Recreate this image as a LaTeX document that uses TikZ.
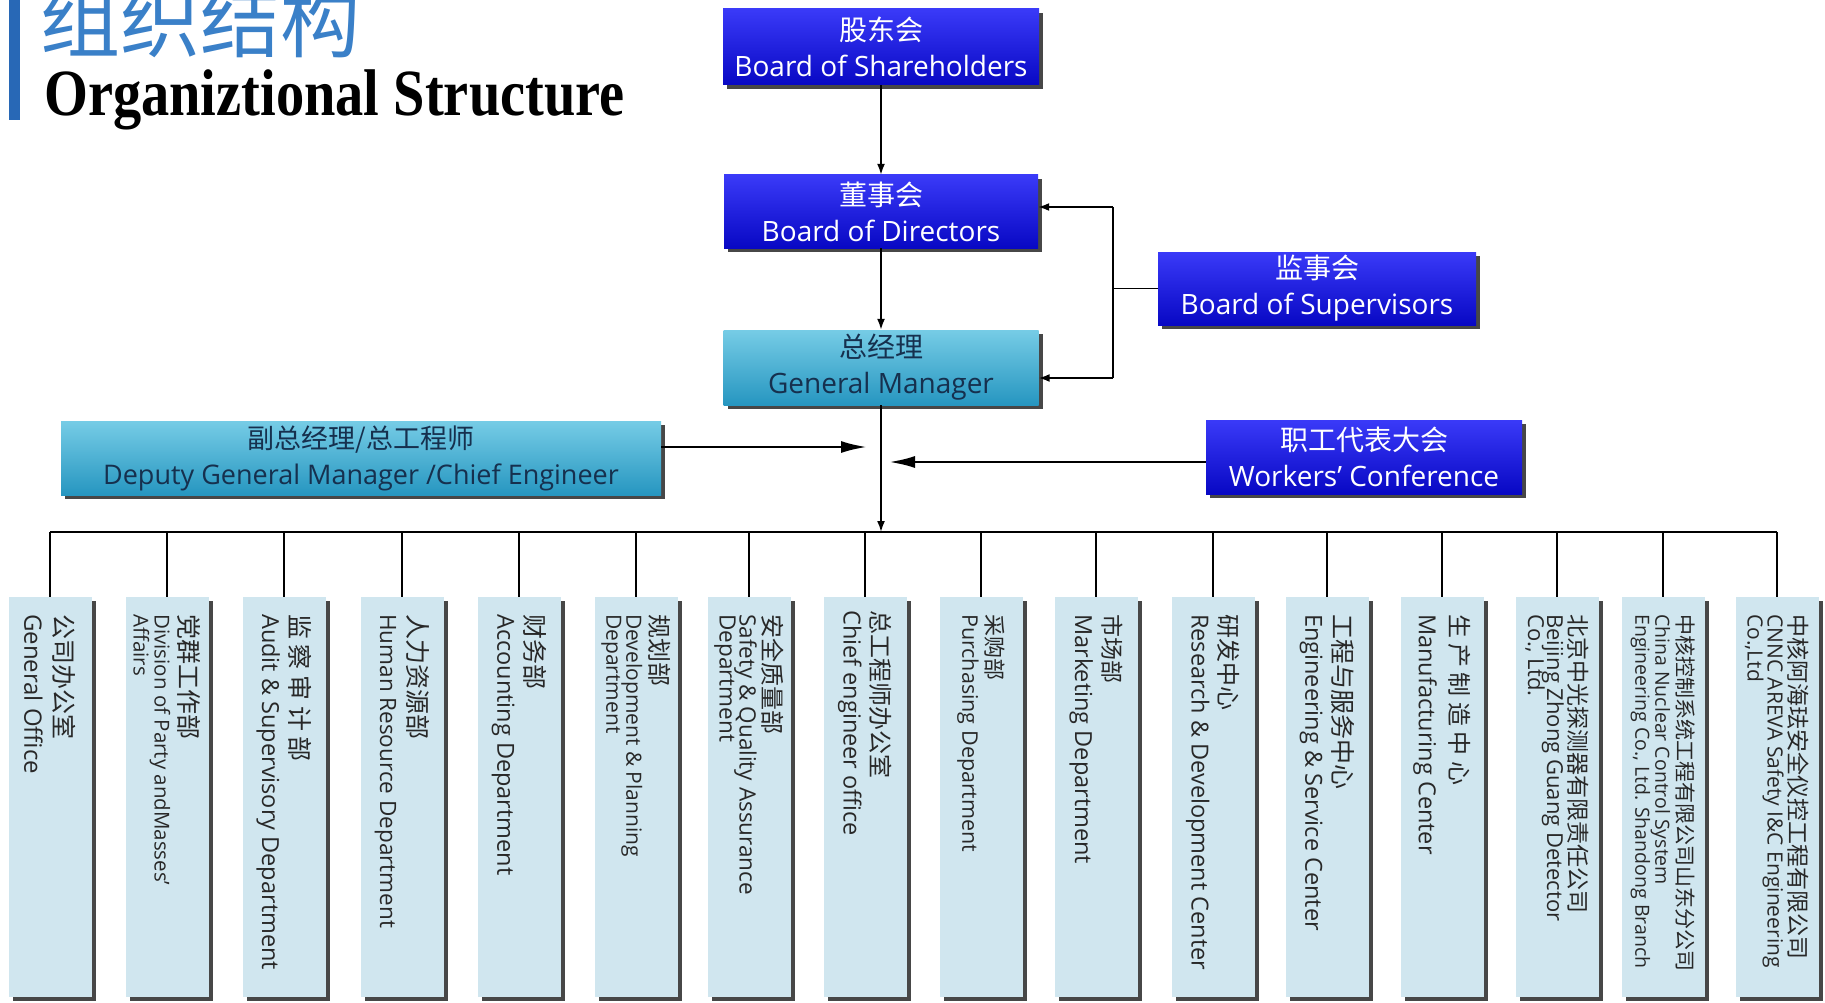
\documentclass[tikz,border=0pt]{standalone}
\usepackage{fontspec}
\setmainfont{Open Sans}
\newfontfamily\cjk{Noto Sans CJK SC}
\newfontfamily\titleserif{Liberation Serif}
\usetikzlibrary{arrows.meta,shadows}

\definecolor{boardtop}{RGB}{58,58,248}
\definecolor{boardbot}{RGB}{8,8,196}
\definecolor{mgrtop}{RGB}{118,204,230}
\definecolor{mgrbot}{RGB}{38,150,192}
\definecolor{deptfill}{RGB}{208,230,239}
\definecolor{shade}{RGB}{62,62,62}
\definecolor{navytext}{RGB}{22,48,78}
\definecolor{deptink}{RGB}{40,40,40}
\definecolor{titleblue}{RGB}{58,128,200}
\definecolor{barblue}{RGB}{40,104,182}

\tikzset{
  boxshadow/.style={drop shadow={shadow xshift=4pt, shadow yshift=-4pt, fill=shade, opacity=0.95}},
  board/.style={boxshadow, draw=none, top color=boardtop, bottom color=boardbot,
    text=white, align=center, inner sep=0pt,
    font=\fontsize{28}{36}\selectfont},
  manager/.style={boxshadow, draw=none, top color=mgrtop, bottom color=mgrbot,
    text=navytext, align=center, inner sep=0pt,
    font=\fontsize{28}{36}\selectfont},
  dept/.style={boxshadow, draw=none, fill=deptfill, inner sep=0pt,
    minimum width=83pt, minimum height=400pt},
  depttext/.style={rotate=-90, anchor=west, align=left, inner sep=0pt,
    text=deptink, font=\fontsize{21}{22}\selectfont},
  conn/.style={line width=1.8pt, -{Latex[length=11pt,width=8pt]}},
  heavyarrow/.style={line width=2.6pt, -{Latex[length=26pt,width=12pt]}},
  wire/.style={line width=1.8pt},
  busline/.style={line width=2.6pt}
}

\begin{document}
\begin{tikzpicture}[x=1pt,y=-1pt]
\useasboundingbox (0,0) rectangle (1825,1003);
\fill[white] (0,0) rectangle (1825,1003);

% heading
\fill[barblue] (9,0) rectangle (20,120);
\node[anchor=base west, inner sep=0pt, text=titleblue,
      font=\cjk\fontsize{80}{80}\selectfont] (headzh) at (40,52) {组织结构};
\node[anchor=base west, inner sep=0pt,
      font=\titleserif\bfseries\fontsize{66}{66}\selectfont] (headen) at (44,116)
      {\scalebox{0.855}[1]{Organiztional Structure}};

% governing bodies
\node[board, minimum width=316pt, minimum height=76pt] (sh) at (881,47)
  {{\cjk 股东会}\\Board of Shareholders};
\node[board, minimum width=314pt, minimum height=73pt] (dir) at (881,211.5)
  {{\cjk 董事会}\\Board of Directors};
\node[manager, minimum width=315pt, minimum height=75pt] (gm) at (881,367.5)
  {{\cjk 总经理}\\General Manager};
\node[board, minimum width=318pt, minimum height=73pt] (sup) at (1317,288.5)
  {{\cjk 监事会}\\Board of Supervisors};
\node[manager, minimum width=600pt, minimum height=74pt,
      font=\fontsize{27}{36}\selectfont] (dep) at (361,458)
  {{\cjk 副总经理/总工程师}\\Deputy General Manager /Chief Engineer};
\node[board, minimum width=316pt, minimum height=74pt] (wk) at (1364,457)
  {{\cjk 职工代表大会}\\Workers' Conference};

% departments
\node[dept] (d1)  at (50,797)   {};
\node[dept] (d2)  at (167,797)  {};
\node[dept] (d3)  at (284,797)  {};
\node[dept] (d4)  at (402,797)  {};
\node[dept] (d5)  at (519,797)  {};
\node[dept] (d6)  at (636,797)  {};
\node[dept] (d7)  at (749,797)  {};
\node[dept] (d8)  at (865,797)  {};
\node[dept] (d9)  at (981,797)  {};
\node[dept] (d10) at (1096,797) {};
\node[dept] (d11) at (1213,797) {};
\node[dept] (d12) at (1327,797) {};
\node[dept] (d13) at (1442,797) {};
\node[dept] (d14) at (1557,797) {};
\node[dept] (d15) at (1663,797) {};
\node[dept] (d16) at (1777,797) {};

\node[depttext] (t1) at (50,614)
  {{\cjk\fontsize{25}{25}\selectfont 公司办公室}\\[8pt]{\fontsize{24}{24}\selectfont General Office}};
\node[depttext] (t2) at (167,614)
  {{\cjk\fontsize{25}{25}\selectfont 党群工作部}\\[3pt]{\fontsize{20.5}{21}\selectfont Division of Party andMasses'}\\[-1pt]{\fontsize{20.5}{21}\selectfont Affairs}};
\node[depttext] (t3) at (284,614)
  {{\cjk\fontsize{25}{25}\selectfont 监 察 审 计 部}\\[6pt]{\fontsize{23.5}{24}\selectfont Audit \& Supervisory Department}};
\node[depttext] (t4) at (402,614)
  {{\cjk\fontsize{25}{25}\selectfont 人力资源部}\\[6pt]{\fontsize{22.5}{23}\selectfont Human Resource Department}};
\node[depttext] (t5) at (519,614)
  {{\cjk\fontsize{25}{25}\selectfont 财务部}\\[6pt]{\fontsize{23.5}{24}\selectfont Accounting Department}};
\node[depttext] (t6) at (636,614)
  {{\cjk\fontsize{24}{24}\selectfont 规划部}\\[2pt]{\fontsize{21}{21}\selectfont Development \& Planning}\\[-2pt]{\fontsize{21}{21}\selectfont Department}};
\node[depttext] (t7) at (749,614)
  {{\cjk\fontsize{24}{24}\selectfont 安全质量部}\\[2pt]{\fontsize{22.5}{22}\selectfont Safety \& Quality Assurance}\\[-2pt]{\fontsize{22.5}{22}\selectfont Department}};
\node[depttext] (t8) at (865,610)
  {{\cjk\fontsize{24}{24}\selectfont 总工程师办公室}\\[6pt]{\fontsize{23.5}{24}\selectfont Chief engineer office}};
\node[depttext] (t9) at (981,614)
  {{\cjk\fontsize{22}{22}\selectfont 采购部}\\[2pt]{\fontsize{21.5}{22}\selectfont Purchasing Department}};
\node[depttext] (t10) at (1096,614)
  {{\cjk\fontsize{23}{23}\selectfont 市场部}\\[6pt]{\fontsize{23.5}{24}\selectfont Marketing Department}};
\node[depttext] (t11) at (1213,614)
  {{\cjk\fontsize{24}{24}\selectfont 研发中心}\\[6pt]{\fontsize{23.5}{24}\selectfont Research \& Development Center}};
\node[depttext] (t12) at (1327,614)
  {{\cjk\fontsize{25}{25}\selectfont 工程与服务中心}\\[6pt]{\fontsize{23.5}{24}\selectfont Engineering \& Service Center}};
\node[depttext] (t13) at (1442,614)
  {{\cjk\fontsize{24}{24}\selectfont 生 产 制 造 中 心}\\[10pt]{\fontsize{23.5}{24}\selectfont Manufacturing Center}};
\node[depttext] (t14) at (1557,614)
  {{\cjk\fontsize{23}{23}\selectfont 北京中光探测器有限责任公司}\\[0pt]{\fontsize{22}{22}\selectfont Beijing Zhong Guang Detector}\\[-3pt]{\fontsize{22}{22}\selectfont Co., Ltd.}};
\node[depttext] (t15) at (1663,614)
  {{\cjk\fontsize{21}{21}\selectfont 中核控制系统工程有限公司山东分公司}\\[0pt]{\fontsize{19.5}{20}\selectfont China Nuclear Control System}\\[-2pt]{\fontsize{19.5}{20}\selectfont Engineering Co., Ltd. Shandong Branch}};
\node[depttext] (t16) at (1777,614)
  {{\cjk\fontsize{23}{23}\selectfont 中核阿海珐安全仪控工程有限公司}\\[0pt]{\fontsize{21}{21}\selectfont CNNC AREVA Safety I\&C Engineering}\\[-2pt]{\fontsize{21}{21}\selectfont Co.,Ltd}};

% connector junctions
\coordinate (bus) at (881,532);
\coordinate (supup) at (1113,207);
\coordinate (supdown) at (1113,378);
\coordinate (deptip) at (867,447);
\coordinate (wktip) at (889,462);

% chain of command
\draw[conn] (sh.south) -- (dir.north);
\draw[conn] (dir.south) -- (gm.north);
\draw[conn] (gm.south) -- (bus);

% supervisors report to both boards
\draw[wire] (sup.west) -- (sup.west -| supup);
\draw[wire] (supup) -- (supdown);
\draw[conn] (supup) -- (dir.east |- supup);
\draw[conn] (supdown) -- (gm.east |- supdown);

% deputy and workers' conference
\draw[heavyarrow] (dep.east |- deptip) -- (deptip);
\draw[heavyarrow] (wk.west |- wktip) -- (wktip);

% department bus and drops
\draw[busline] (d1.north |- bus) -- (d16.north |- bus);
\foreach \i in {1,...,16}
  \draw[wire] (d\i.north |- bus) -- (d\i.north);
\end{tikzpicture}
\end{document}
